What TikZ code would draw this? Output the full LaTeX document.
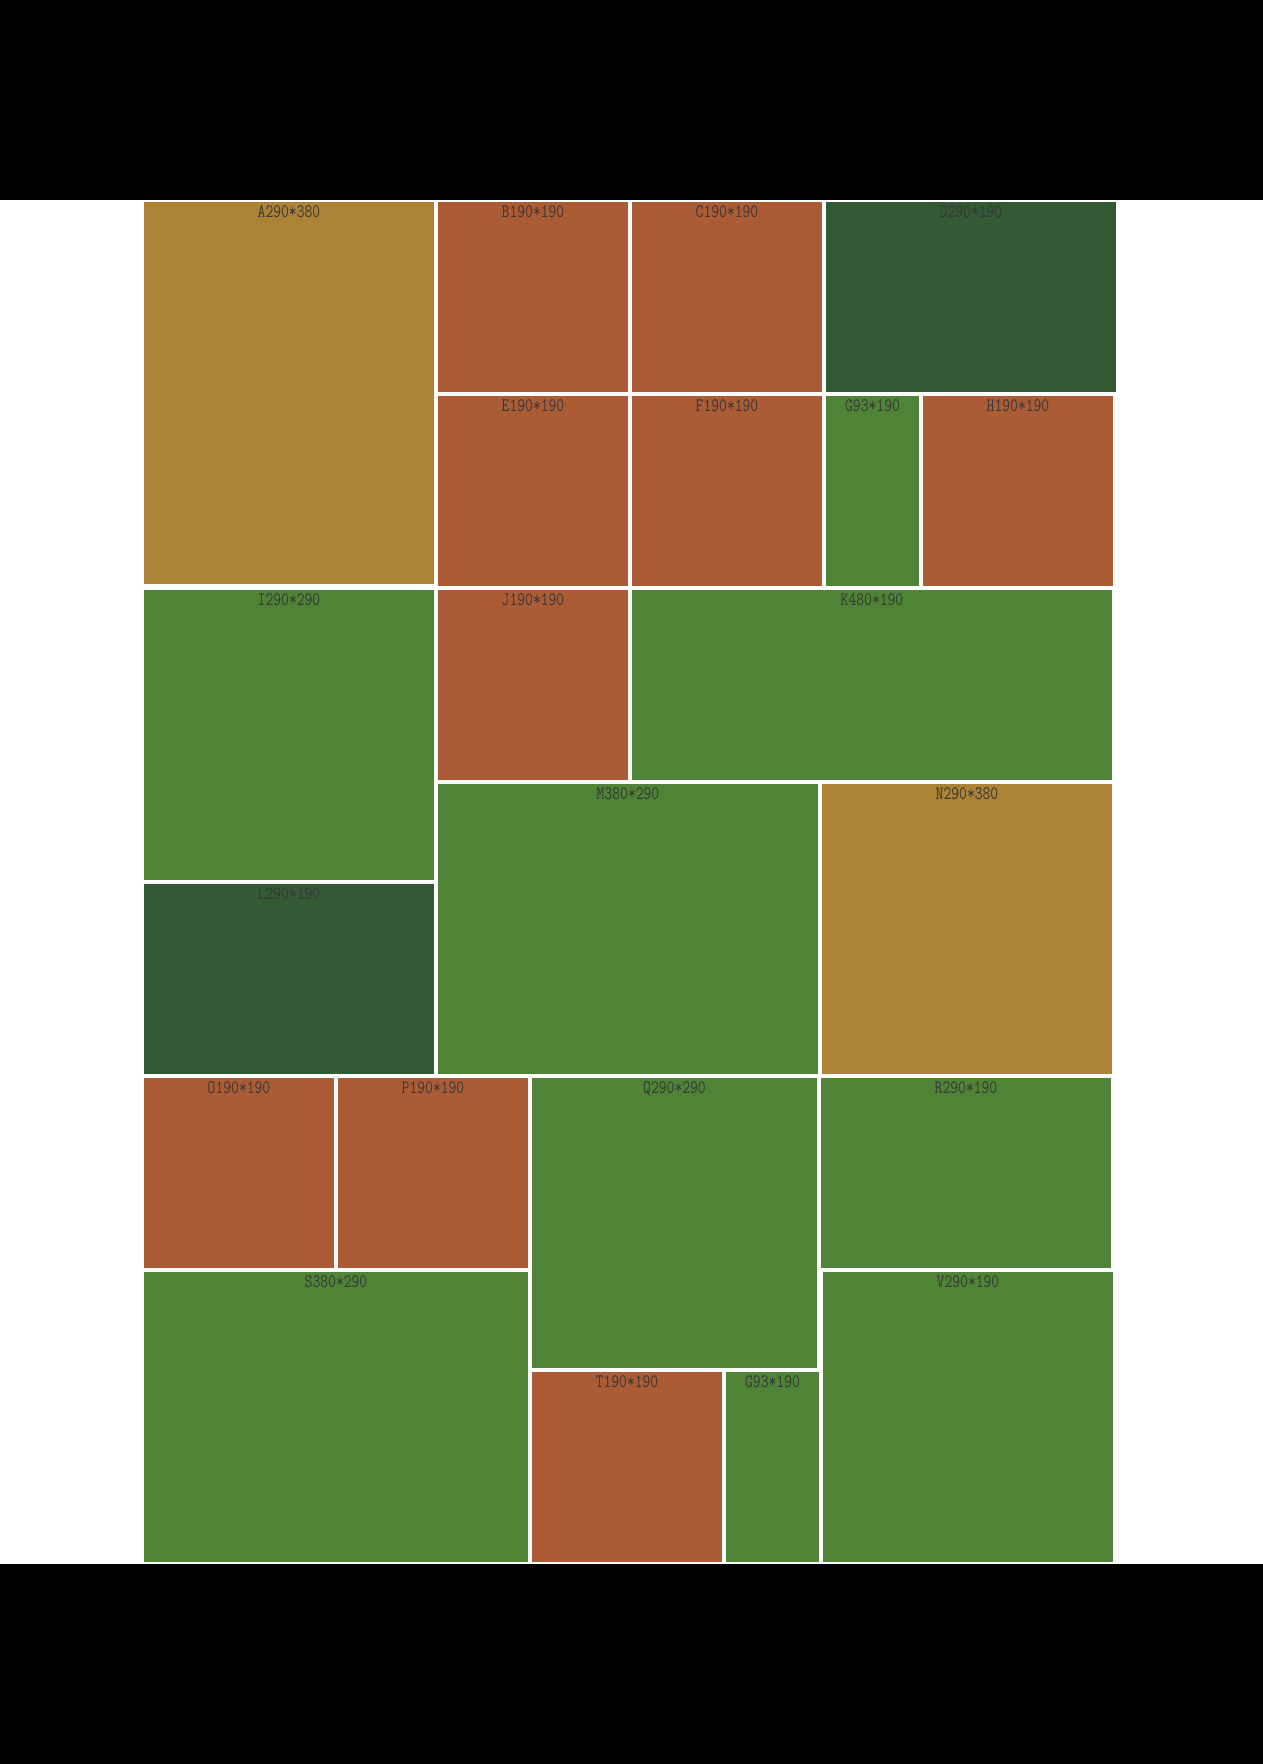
\documentclass[tikz,border=0pt]{standalone}
\usepackage{fontspec}
\usepackage{graphicx}
\definecolor{ochre}{RGB}{172,131,52}
\definecolor{rust}{RGB}{172,92,52}
\definecolor{dkgreen}{RGB}{51,90,51}
\definecolor{grn}{RGB}{79,131,53}
\definecolor{lblgray}{RGB}{55,55,60}
\begin{document}
\begin{tikzpicture}[x=1pt,y=-1pt,
  lbl/.style={anchor=base, inner sep=0pt, text=lblgray, font=\ttfamily\fontsize{15.2}{16}\selectfont}]
\useasboundingbox (0,0) rectangle (1263,1764);
\fill[white] (0,0) rectangle (1263,1764);
\fill[black] (0,0) rectangle (1263,200);
\fill[black] (0,1564) rectangle (1263,1764);
\newcommand\tile[7]{%
  \fill[#6] (#2,#3) rectangle (#4,#5);
  \node[lbl] (#1) at ({(#2+#4)/2},{#3+15.5}) {\scalebox{1}[1.25]{#7}};}
\tile{A}{144}{202}{434}{584}{ochre}{A290*380}
\tile{B}{438}{202}{628}{392}{rust}{B190*190}
\tile{C}{632}{202}{822}{392}{rust}{C190*190}
\tile{D}{826}{202}{1116}{392}{dkgreen}{D290*190}
\tile{E}{438}{396}{628}{586}{rust}{E190*190}
\tile{F}{632}{396}{822}{586}{rust}{F190*190}
\tile{G}{826}{396}{919}{586}{grn}{G93*190}
\tile{H}{923}{396}{1113}{586}{rust}{H190*190}
\tile{I}{144}{590}{434}{880}{grn}{I290*290}
\tile{J}{438}{590}{628}{780}{rust}{J190*190}
\tile{K}{632}{590}{1112}{780}{grn}{K480*190}
\tile{L}{144}{884}{434}{1074}{dkgreen}{L290*190}
\tile{M}{438}{784}{818}{1074}{grn}{M380*290}
\tile{N}{822}{784}{1112}{1074}{ochre}{N290*380}
\tile{O}{144}{1078}{334}{1268}{rust}{O190*190}
\tile{P}{338}{1078}{528}{1268}{rust}{P190*190}
\tile{Q}{532}{1078}{817}{1368}{grn}{Q290*290}
\tile{R}{821}{1078}{1111}{1268}{grn}{R290*190}
\tile{S}{144}{1272}{528}{1562}{grn}{S380*290}
\tile{T}{532}{1372}{722}{1562}{rust}{T190*190}
\tile{G2}{726}{1372}{819}{1562}{grn}{G93*190}
\tile{V}{823}{1272}{1113}{1562}{grn}{V290*190}
\end{tikzpicture}
\end{document}
